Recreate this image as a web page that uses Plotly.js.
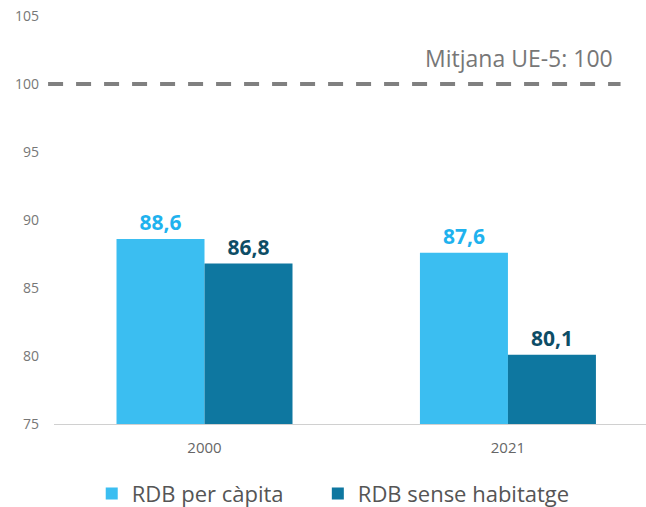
<!DOCTYPE html>
<html><head><meta charset="utf-8">
<script src="https://cdn.plot.ly/plotly-3.0.1.min.js"></script>
<style>html,body{margin:0;padding:0;background:#fff;}#chart{width:646px;height:507px;}</style>
</head><body><div id="chart"></div>
<script>
const categories = ['2000', '2021'];
const seriesNames = ['RDB per càpita', 'RDB sense habitatge'];
const rdbPerCapita = [88.6, 87.6];
const rdbSenseHabitatge = [86.8, 80.1];
const referenceValue = 100;
const referenceLabel = 'Mitjana UE-5: 100';
const yTicks = [75, 80, 85, 90, 95, 100, 105];

const fmt = v => v.toFixed(1).replace('.', ',');
const FONT = '"Open Sans", sans-serif';

const traces = [
  {type: 'bar', name: seriesNames[0], x: categories, y: rdbPerCapita, legend: 'legend',
   marker: {color: '#3bbef1'}, text: rdbPerCapita.map(fmt), textposition: 'outside',
   textfont: {family: FONT, size: 21, color: '#1fb2ee', weight: 'bold'}, cliponaxis: false},
  {type: 'bar', name: seriesNames[1], x: categories, y: rdbSenseHabitatge, legend: 'legend2',
   marker: {color: '#0e77a0'}, text: rdbSenseHabitatge.map(fmt), textposition: 'outside',
   textfont: {family: FONT, size: 21, color: '#0d4d66', weight: 'bold'}, cliponaxis: false}
];

const legendBase = {orientation: 'h', xref: 'container', xanchor: 'left', y: 0.026, yref: 'container',
                    yanchor: 'middle', font: {size: 22, color: '#555'}, itemwidth: 30};

const layout = {
  width: 646, height: 507,
  margin: {l: 54, r: 0, t: 16, b: 83, autoexpand: false},
  paper_bgcolor: '#fff', plot_bgcolor: '#fff',
  font: {family: FONT, color: '#666'},
  barmode: 'group', bargap: 0.42, bargroupgap: 0,
  showlegend: true,
  legend: Object.assign({}, legendBase, {x: 0.142}),
  legend2: Object.assign({}, legendBase, {x: 0.492}),
  xaxis: {type: 'category', range: [-0.496, 1.455], showline: true, linecolor: '#d0d0d0', linewidth: 1,
          ticks: '', tickfont: {size: 15, color: '#666'}, showgrid: false, fixedrange: true, ticklabelstandoff: 10},
  yaxis: {range: [75, 105], tickvals: yTicks, ticktext: yTicks.map(String), showgrid: false,
          zeroline: false, showline: false, ticks: '', tickfont: {size: 14, color: '#777'}, ticklabelstandoff: 14},
  shapes: [{type: 'line', xref: 'paper', yref: 'y', x0: -0.01, x1: 0.957, y0: referenceValue, y1: referenceValue,
            line: {color: '#808080', width: 4, dash: '15px,13px'}}],
  annotations: [{xref: 'paper', yref: 'y', x: 0.948, y: referenceValue, yanchor: 'bottom', xanchor: 'right',
                 yshift: 8, text: referenceLabel, showarrow: false, font: {size: 23, color: '#777'}}]
};
Plotly.newPlot('chart', traces, layout, {displayModeBar: false, staticPlot: true});
</script></body></html>
